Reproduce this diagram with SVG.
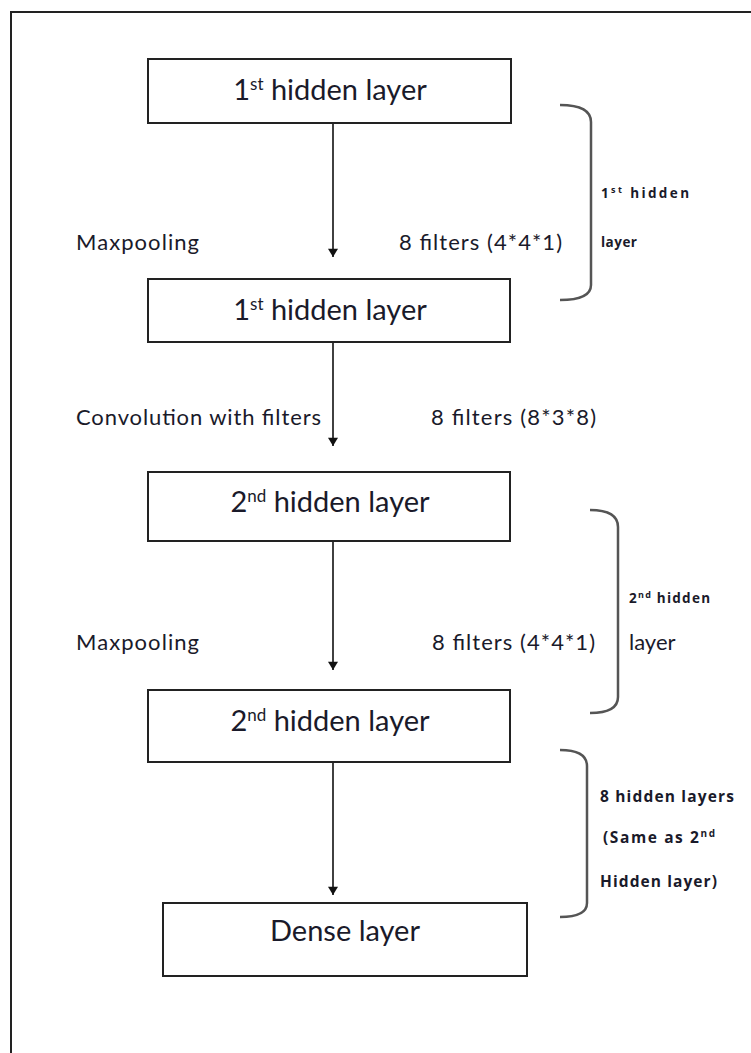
<svg xmlns="http://www.w3.org/2000/svg" width="751" height="1053" viewBox="0 0 751 1053">
  <defs>
    <marker id="arrow" viewBox="0 0 10 12" refX="10" refY="6" markerWidth="12" markerHeight="10" markerUnits="userSpaceOnUse" orient="auto">
      <path d="M0,0 L10,6 L0,12 z" fill="#111"/>
    </marker>
    <style>
      .box { fill: #fff; stroke: #222; stroke-width: 2; }
      .title { font-family: Lato, "Liberation Sans", sans-serif; font-size: 29px; fill: #1a1a2a; text-anchor: middle; }
      .sup { font-size: 17px; }
      .lbl { font-family: Lato, "Liberation Sans", sans-serif; font-size: 22px; fill: #1a1a2a; }
      .small { font-family: "Open Sans", "Liberation Sans", sans-serif; font-size: 15.5px; fill: #1a1a2a; font-weight: bold; }
      .tiny { font-family: "Open Sans", "Liberation Sans", sans-serif; font-size: 13.5px; fill: #1a1a2a; font-weight: bold; }
      .edge { stroke: #111; stroke-width: 1.6; fill: none; marker-end: url(#arrow); }
      .brace { stroke: #555; stroke-width: 2.5; fill: none; }
    </style>
  </defs>

  <rect width="751" height="1053" fill="#fff"/>
  <!-- frame (open on the right and bottom) -->
  <path d="M11,1053 V12 H751" fill="none" stroke="#222" stroke-width="2"/>

  <g id="connectors">
    <line class="edge" x1="333" y1="123" x2="333" y2="257"/>
    <line class="edge" x1="333" y1="342" x2="333" y2="446"/>
    <line class="edge" x1="333" y1="541" x2="333" y2="670"/>
    <line class="edge" x1="333" y1="762" x2="333" y2="895"/>
  </g>

  <g id="node-hidden1a">
    <rect class="box" x="148" y="59" width="363" height="64"/>
    <text class="title" x="330" y="100">1<tspan class="sup" dy="-10">st</tspan><tspan dy="10"> hidden layer</tspan></text>
  </g>

  <g id="node-hidden1b">
    <rect class="box" x="148" y="279" width="362" height="63"/>
    <text class="title" x="330" y="320">1<tspan class="sup" dy="-10">st</tspan><tspan dy="10"> hidden layer</tspan></text>
  </g>

  <g id="node-hidden2a">
    <rect class="box" x="148" y="472" width="362" height="69"/>
    <text class="title" x="330" y="512">2<tspan class="sup" dy="-10">nd</tspan><tspan dy="10"> hidden layer</tspan></text>
  </g>

  <g id="node-hidden2b">
    <rect class="box" x="148" y="690" width="362" height="72"/>
    <text class="title" x="330" y="731">2<tspan class="sup" dy="-10">nd</tspan><tspan dy="10"> hidden layer</tspan></text>
  </g>

  <g id="node-dense">
    <rect class="box" x="163" y="903" width="364" height="73"/>
    <text class="title" x="345" y="941">Dense layer</text>
  </g>

  <g id="labels">
    <text class="lbl" x="76" y="250" textLength="123" lengthAdjust="spacing">Maxpooling</text>
    <text class="lbl" x="399" y="250" textLength="163" lengthAdjust="spacing">8 filters (4*4*1)</text>
    <text class="lbl" x="76" y="425" textLength="245" lengthAdjust="spacing">Convolution with filters</text>
    <text class="lbl" x="431" y="425" textLength="165" lengthAdjust="spacing">8 filters (8*3*8)</text>
    <text class="lbl" x="76" y="650" textLength="123" lengthAdjust="spacing">Maxpooling</text>
    <text class="lbl" x="432" y="650" textLength="163" lengthAdjust="spacing">8 filters (4*4*1)</text>
  </g>

  <g id="brace-1">
    <path class="brace" d="M560,105 Q591,105 591,122 V285 Q591,300 560,300"/>
    <text class="tiny" x="601" y="198" textLength="88" lengthAdjust="spacing">1<tspan font-size="9" dy="-5">st</tspan><tspan dy="5"> hidden</tspan></text>
    <text class="tiny" x="601" y="247" font-size="12" textLength="36" lengthAdjust="spacing">layer</text>
  </g>

  <g id="brace-2">
    <path class="brace" d="M590,510 Q618,510 618,527 V697 Q618,713 590,713"/>
    <text class="tiny" x="629" y="603" textLength="81" lengthAdjust="spacing">2<tspan font-size="9" dy="-5">nd</tspan><tspan dy="5"> hidden</tspan></text>
    <text class="lbl" x="629" y="650" font-size="23">layer</text>
  </g>

  <g id="brace-3">
    <path class="brace" d="M560,750 Q587,750 587,766 V903 Q587,917 560,917"/>
    <text class="small" x="600" y="802" textLength="134" lengthAdjust="spacing">8 hidden layers</text>
    <text class="small" x="603" y="843" textLength="112" lengthAdjust="spacing">(Same as 2<tspan font-size="10" dy="-6">nd</tspan></text>
    <text class="small" x="600" y="887" textLength="117" lengthAdjust="spacing">Hidden layer)</text>
  </g>
</svg>
